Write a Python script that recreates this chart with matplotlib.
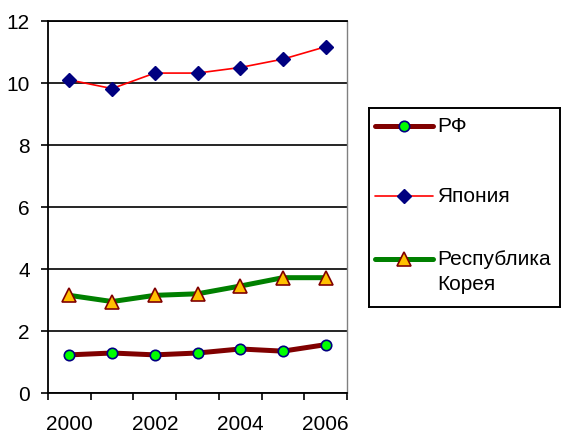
import matplotlib
matplotlib.use("Agg")
import matplotlib.pyplot as plt
from matplotlib.lines import Line2D
import numpy as np

plt.rcParams['font.family'] = ['Liberation Sans', 'DejaVu Sans']

years = ['2000', '2001', '2002', '2003', '2004', '2005', '2006']
rf = [1.23, 1.29, 1.23, 1.29, 1.42, 1.35, 1.56]
japan = [10.1, 9.82, 10.32, 10.32, 10.5, 10.77, 11.17]
korea = [3.15, 2.95, 3.15, 3.2, 3.45, 3.72, 3.72]
labels = ['РФ', 'Япония', 'Республика\nКорея']

W, H = 561, 435
FS = 15
fig = plt.figure(figsize=(W / 100, H / 100), dpi=100)
fig.patch.set_facecolor('white')
ax = fig.add_axes([48 / W, 1 - 394 / H, (347 - 48) / W, (394 - 22) / H])

x = np.arange(len(years))
rf_style = dict(color='#800000', lw=3.6, marker='o', ms=7.5, mfc='#00FF00',
                mec='#000080', mew=1.2)
jp_style = dict(color='#FF0000', lw=1.2, marker='D', ms=7, mfc='#000080',
                mec='#000080', mew=1)
kr_style = dict(color='#008000', lw=3.6, marker='^', ms=9.5, mfc='#FFC000',
                mec='#800000', mew=1.2)
ax.plot(x, rf, **rf_style, solid_capstyle='round', zorder=3)
ax.plot(x, japan, **jp_style, zorder=3)
ax.plot(x, korea, **kr_style, solid_capstyle='round', zorder=3)

ax.set_xlim(-0.5, len(years) - 0.5)
ax.set_ylim(0, 12)
ax.set_yticks(np.arange(0, 13, 2))
ax.set_yticklabels([str(v) for v in range(0, 13, 2)], fontsize=FS)
ax.set_xticks(x[::2])
ax.set_xticklabels(years[::2], fontsize=FS)
ax.set_xticks(np.arange(-0.5, len(years), 1), minor=True)
ax.tick_params(axis='x', which='major', length=0, pad=15)
ax.tick_params(axis='x', which='minor', length=5, width=1.2, direction='out')
ax.tick_params(axis='y', which='major', length=5, width=1.2, direction='out', pad=8)
ax.grid(axis='y', color='black', lw=1.2, zorder=1)
for s in ['left', 'bottom', 'top']:
    ax.spines[s].set_color('black')
    ax.spines[s].set_linewidth(1.3)
ax.spines['right'].set_color('#808080')
ax.spines['right'].set_linewidth(1.0)

# legend box
lx0, ly0, lx1, ly1 = 369, 109, 560, 308
lax = fig.add_axes([lx0 / W, 1 - ly1 / H, (lx1 - lx0) / W, (ly1 - ly0) / H])
lax.set_xlim(0, lx1 - lx0)
lax.set_ylim(ly1 - ly0, 0)
lax.set_xticks([])
lax.set_yticks([])
for s in lax.spines.values():
    s.set_color('black')
    s.set_linewidth(1.4)
rows = [18, 88, 151]
styles = [rf_style, jp_style, kr_style]
for yy, st, lab in zip(rows, styles, labels):
    lax.add_line(Line2D([6, 64], [yy, yy], color=st['color'], lw=st['lw'],
                        solid_capstyle='round'))
    lax.add_line(Line2D([35], [yy], linestyle='none', marker=st['marker'],
                        ms=st['ms'], mfc=st['mfc'], mec=st['mec'], mew=st['mew']))
    lax.text(68, yy - 10, lab, fontsize=FS, va='top', ha='left', linespacing=1.4)

fig.savefig('out.png', dpi=100)
